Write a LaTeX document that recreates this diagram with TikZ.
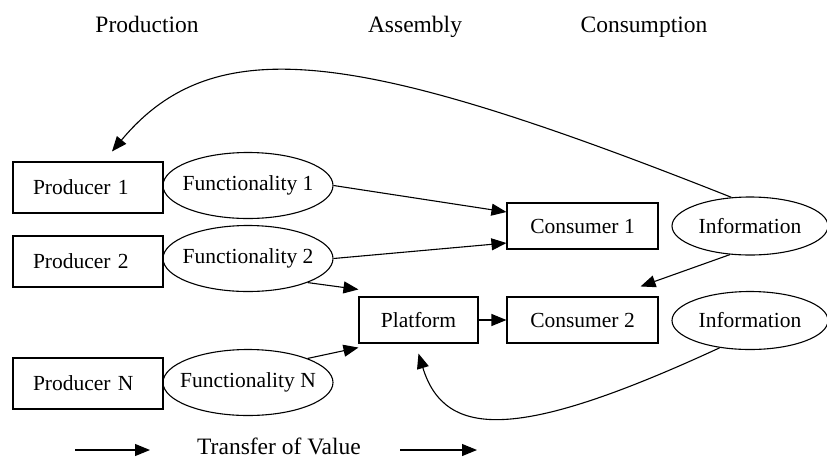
\documentclass[tikz,border=0pt]{standalone}
\usepackage{fontspec}
\setmainfont{Liberation Serif}
\usetikzlibrary{arrows.meta,shapes.geometric}

\begin{document}
\begin{tikzpicture}[x=1pt,y=-1pt,
    >={Triangle[length=15pt,width=12pt]},
    every node/.style={font=\fontsize{21.5}{24}\selectfont},
    titletext/.style={font=\fontsize{23.5}{26}\selectfont, anchor=base, inner sep=0pt},
    prodbox/.style={draw, line width=1.1pt, minimum height=51pt, text width=110pt, inner xsep=20pt, align=left},
    funcell/.style={ellipse, draw, line width=1.1pt, minimum width=170pt, minimum height=66pt, inner xsep=-10pt, inner ysep=0pt},
    consbox/.style={draw, line width=1.1pt, minimum width=151pt, minimum height=46pt},
    infoell/.style={ellipse, draw, line width=1.1pt, minimum width=156pt, minimum height=58pt, inner xsep=-4pt, inner ysep=0pt},
    flow/.style={->, line width=1.1pt}]
  \useasboundingbox (0,0) rectangle (827,459);

  % column headings
  \node[titletext] (tprod) at (147,32) {Production};
  \node[titletext] (tasm) at (415,32) {Assembly};
  \node[titletext] (tcons) at (644,32) {Consumption};

  % producers and what they offer
  \node[prodbox] (prod1) at (88,187.5) {Producer 1};
  \node[prodbox] (prod2) at (88,261.5) {Producer 2};
  \node[prodbox] (prodN) at (88,383.5) {Producer N};
  \node[funcell] (func1) at (248,185.5) {Functionality 1};
  \node[funcell] (func2) at (248,258.5) {Functionality 2};
  \node[funcell] (funcN) at (248,382.5) {Functionality N};

  % assembly and consumers
  \node[consbox, minimum width=119pt] (plat) at (418.5,320) {Platform};
  \node[consbox] (cons1) at (582.5,226) {Consumer 1};
  \node[consbox] (cons2) at (582.5,320) {Consumer 2};
  \node[infoell] (info1) at (750,226) {Information};
  \node[infoell] (info2) at (750,320.5) {Information};

  \draw[flow] (func1.east) -- ([yshift=14pt]cons1.west);
  \draw[flow] (func2.east) -- ([yshift=-17pt]cons1.west);
  \draw[flow] (func2.-22) -- ([yshift=7pt]plat.north west);
  \draw[flow] (funcN.22) -- ([yshift=-4pt]plat.south west);
  \draw[flow] (plat.east) -- (cons2.west);
  \draw[flow] (info1.235) -- ([shift={(-18pt,10pt)}]cons2.north east);

  % feedback of information
  \draw[flow] (info1.123) .. controls (360,50) and (215,28) .. ([shift={(24pt,10pt)}]prod1.north);
  \draw[flow] (info2.222) .. controls (520,440) and (445,440) .. ([yshift=-10pt]plat.south);

  % legend
  \node[titletext] (legend) at (279,454) {Transfer of Value};
  \coordinate (la) at (75,450);
  \coordinate (lb) at (150,450);
  \coordinate (lc) at (400,450);
  \coordinate (ld) at (477,450);
  \draw[flow] (la) -- (lb);
  \draw[flow] (lc) -- (ld);
\end{tikzpicture}
\end{document}
